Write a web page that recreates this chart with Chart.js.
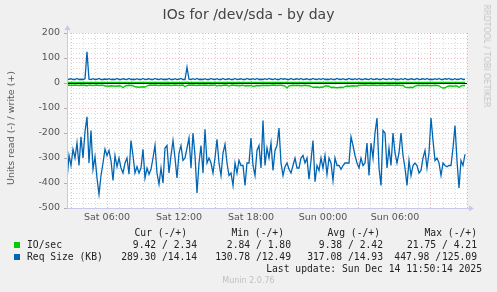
<!DOCTYPE html>
<html>
<head>
<meta charset="utf-8">
<title>IOs for /dev/sda - by day</title>
<script src="https://cdn.jsdelivr.net/npm/chart.js@4.4.1/dist/chart.umd.min.js"></script>
<style>
  body { margin: 0; background: #f0f0f0; }
  #wrap { position: relative; width: 497px; height: 292px; overflow: hidden; font-family: "DejaVu Sans", sans-serif; }
  #wrap canvas { position: absolute; left: 0; top: 0; }
  .txt { position: absolute; white-space: pre; line-height: 12px; }
  .mono { font-family: "DejaVu Sans Mono", monospace; font-size: 9.7px; color: #222; }
  .sq { position: absolute; width: 6px; height: 6px; left: 14px; }
</style>
</head>
<body>
<div id="wrap">
  <canvas id="chart" width="497" height="292"></canvas>

  <div class="txt" style="left:0;width:497px;top:7px;text-align:center;font-size:14px;line-height:14px;color:#444;">IOs for /dev/sda - by day</div>
  <div class="txt" style="left:11px;top:128px;font-size:9.5px;color:#555;transform:translate(-50%,-50%) rotate(-90deg);">Units read (-) / write (+)</div>
  <div class="txt" style="left:486px;top:56px;font-size:8px;color:#c4c4c4;transform:translate(-50%,-50%) rotate(90deg);">RRDTOOL / TOBI OETIKER</div>

  <!-- legend -->
  <div class="txt mono" style="right:310px;top:227px;">Cur (-/+)</div>
  <div class="txt mono" style="right:213px;top:227px;">Min (-/+)</div>
  <div class="txt mono" style="right:117px;top:227px;">Avg (-/+)</div>
  <div class="txt mono" style="right:20px;top:227px;">Max (-/+)</div>

  <div class="sq" style="top:242px;background:#00cc00;"></div>
  <div class="txt mono" style="left:27px;top:239px;">IO/sec</div>
  <div class="txt mono" style="right:300px;top:239px;">9.42 / 2.34</div>
  <div class="txt mono" style="right:206px;top:239px;">2.84 / 1.80</div>
  <div class="txt mono" style="right:114px;top:239px;">9.38 / 2.42</div>
  <div class="txt mono" style="right:20px;top:239px;">21.75 / 4.21</div>

  <div class="sq" style="top:254px;background:#0066b3;"></div>
  <div class="txt mono" style="left:27px;top:251px;">Req Size (KB)</div>
  <div class="txt mono" style="right:300px;top:251px;">289.30 /14.14</div>
  <div class="txt mono" style="right:206px;top:251px;">130.78 /12.49</div>
  <div class="txt mono" style="right:114px;top:251px;">317.08 /14.93</div>
  <div class="txt mono" style="right:56px;top:251px;">447.98 /</div>
  <div class="txt mono" style="right:20px;top:251px;">125.09</div>

  <div class="txt mono" style="right:15px;top:263px;">Last update: Sun Dec 14 11:50:14 2025</div>
  <div class="txt" style="left:0;width:497px;top:276px;text-align:center;font-size:8px;line-height:10px;color:#c0c0c0;">Munin 2.0.76</div>
</div>

<script>
// samples: one every 10 minutes, starting Sat 02:40 (hours since Sat 00:00)
const startHour = 2 + 40 / 60;
const stepHours = 10 / 60;

// x axis: one grid line per hour, labels every 6 hours
const hourTicks = [3,4,5,6,7,8,9,10,11,12,13,14,15,16,17,18,19,20,21,22,23,24,25,26,27,28,29,30,31,32,33,34,35,36];
const timeLabels = { 6: 'Sat 06:00', 12: 'Sat 12:00', 18: 'Sat 18:00', 24: 'Sun 00:00', 30: 'Sun 06:00' };

// IO/sec read (drawn negative)
const readIo = [
  9,8,10,9,8,9,10,8,9,9, 11,8,9,10,9,8,10,9,9,12,
  12,13,11,12,13,12,11,12,19,12, 10,9,10,11,15,16,17,16,15,16,
  12,9,8,9,8,9,10,8,9,8, 9,8,10,9,8,9,10,9,8,15,
  10,8,9,8,9,10,8,9,9,8, 9,10,8,9,8,12,9,11,9,8,
  9,12,9,8,10,9,11,10,9,12, 10,11,10,13,12,10,11,10,9,10,
  9,10,9,8,9,10,9,9,10,12, 20,11,10,9,10,9,10,11,10,9,
  10,11,13,17,17,16,18,17,16,12, 12,13,18,17,18,19,18,17,18,14,
  12,13,12,11,12,12,10,9,9,8, 9,10,9,8,9,10,9,8,9,10,
  9,8,9,9,10,8,9,10,9,17, 18,18,17,18,12,10,9,10,9,10,
  9,10,11,10,9,10,11,17,20,19, 14,12,12,13,12,12,18,11,10,10
];

// IO/sec write
const writeIo = [
  2.4,2.3,2.5,2.4,2.3,2.4,2.6,2.4,2.3,2.4,2.5,2.4,2.3,2.4,2.4,2.5,2.3,2.4,2.4,2.3,
  2.4,2.5,2.4,2.3,2.4,2.4,2.6,2.3,2.4,2.4,2.5,2.4,2.3,2.4,2.4,2.3,2.4,2.5,2.4,2.4,
  2.3,2.4,2.4,2.5,2.4,2.3,2.4,2.4,2.6,2.4,2.3,2.4,2.4,2.5,2.3,2.4,2.4,2.3,2.4,2.5,
  3.1,2.4,2.3,2.4,2.5,2.4,2.4,2.3,2.4,2.4,2.5,2.4,2.3,2.4,2.4,2.6,2.4,2.3,2.4,2.4,
  2.4,2.5,2.3,2.4,2.4,2.3,2.4,2.5,2.4,2.4,2.3,2.4,2.4,2.5,2.4,2.3,2.4,2.4,2.5,2.4,
  2.3,2.4,2.4,2.5,2.4,2.3,2.4,2.4,2.4,2.5,2.6,2.4,2.3,2.4,2.4,2.5,2.4,2.3,2.4,2.4,
  2.5,2.4,2.3,2.4,2.4,2.5,2.4,2.4,2.3,2.4,2.4,2.5,2.4,2.3,2.4,2.4,2.5,2.4,2.4,2.3,
  2.4,2.4,2.5,2.4,2.3,2.4,2.4,2.5,2.4,2.3,2.4,2.4,2.5,2.4,2.4,2.3,2.4,2.5,2.4,2.4,
  2.3,2.4,2.4,2.5,2.4,2.3,2.4,2.4,2.5,2.4,2.4,2.3,2.4,2.5,2.4,2.4,2.3,2.4,2.4,2.5,
  2.4,2.3,2.4,2.4,2.5,2.4,2.4,2.3,2.4,2.5,2.4,2.4,2.3,2.4,2.4,2.5,2.4,2.3,2.4,2.3
];

// Req Size (KB) read (drawn negative)
const readSize = [
  388,290,330,265,300,240,330,215,300,195, 135,320,190,345,295,380,445,370,320,265,
  290,270,310,390,290,335,300,340,360,320, 300,365,230,290,360,335,360,340,265,380,
  340,365,345,300,250,360,405,340,400,260, 250,360,290,230,300,380,280,250,310,300,
  260,220,340,200,290,440,320,250,360,185, 320,300,320,360,300,225,320,370,280,245,
  320,370,360,410,320,360,310,330,330,410, 320,320,220,330,370,270,250,340,150,330,
  260,300,240,350,270,250,180,320,370,335, 320,345,360,330,300,340,340,300,290,320,
  300,385,310,230,395,330,350,300,340,290, 365,300,320,390,300,330,330,345,330,320,
  320,320,215,250,290,320,340,300,330,320, 240,370,240,300,200,140,340,410,190,200,
  340,260,330,200,280,320,280,200,290,340, 410,310,370,330,320,330,360,350,300,270,
  340,280,140,230,310,300,320,370,320,330, 335,330,330,260,170,310,420,310,330,285
];

// Req Size (KB) write
const writeSize = [
  14,15,17,14,14,18,14,15,14,17,125,15,14,17,14,15,18,14,14,16,
  14,17,14,15,14,18,14,14,17,15,14,18,14,15,14,17,14,14,18,14,
  15,17,14,14,18,15,14,17,14,15,14,18,14,14,17,14,15,18,14,14,
  63,15,14,17,14,18,14,15,14,17,14,14,18,15,14,17,14,14,18,14,
  15,17,14,14,18,14,15,17,14,14,18,15,14,17,14,18,14,15,14,17,
  14,18,15,14,17,14,14,18,15,17,14,14,18,14,15,17,14,18,14,15,
  17,14,14,18,15,14,17,14,18,14,15,14,17,14,14,18,15,14,17,14,
  14,18,15,14,17,14,18,14,14,17,15,14,18,14,15,17,14,14,18,15,
  14,17,14,18,14,15,14,17,14,18,14,14,17,15,14,18,14,15,17,14,
  18,14,15,14,17,14,18,14,14,17,15,18,14,14,17,14,15,18,14,15
];

const green = '#00cc00';
const blue = '#0066b3';

function toPoints(values, sign) {
  return values.map((v, i) => ({ x: startHour + i * stepHours, y: sign * v }));
}

function lineSet(label, values, sign, color) {
  return {
    label: label,
    data: toPoints(values, sign),
    borderColor: color,
    backgroundColor: color,
    borderWidth: 1.3,
    pointRadius: 0,
    tension: 0
  };
}

// white plot canvas, zero rule, axes with arrows
const muninLook = {
  id: 'muninLook',
  beforeDraw(chart) {
    const a = chart.chartArea, ctx = chart.ctx;
    ctx.save();
    ctx.fillStyle = '#ffffff';
    ctx.fillRect(a.left, a.top, a.right - a.left, a.bottom - a.top);
    ctx.restore();
  },
  afterDatasetsDraw(chart) {
    const a = chart.chartArea, ctx = chart.ctx;
    const y0 = Math.round(chart.scales.y.getPixelForValue(0)) + 0.5;
    ctx.save();
    ctx.strokeStyle = '#000000';
    ctx.lineWidth = 1;
    ctx.beginPath();
    ctx.moveTo(a.left, y0);
    ctx.lineTo(a.right, y0);
    ctx.stroke();
    ctx.restore();
  },
  afterDraw(chart) {
    const a = chart.chartArea, ctx = chart.ctx;
    const x = a.left + 0.5, y = a.bottom + 0.5;
    ctx.save();
    ctx.strokeStyle = '#c8c8ec';
    ctx.fillStyle = '#c8c8ec';
    ctx.lineWidth = 1;
    ctx.beginPath();
    ctx.moveTo(x, y);
    ctx.lineTo(x, a.top - 4);
    ctx.moveTo(x, y);
    ctx.lineTo(a.right + 3, y);
    ctx.stroke();
    ctx.beginPath();
    ctx.moveTo(x, a.top - 8);
    ctx.lineTo(x - 3, a.top - 3);
    ctx.lineTo(x + 3, a.top - 3);
    ctx.closePath();
    ctx.fill();
    ctx.beginPath();
    ctx.moveTo(a.right + 7, y);
    ctx.lineTo(a.right + 2, y - 3);
    ctx.lineTo(a.right + 2, y + 3);
    ctx.closePath();
    ctx.fill();
    ctx.restore();
  }
};

const majorGrid = 'rgba(225,100,100,0.45)';
const minorGrid = 'rgba(160,160,160,0.38)';

new Chart(document.getElementById('chart'), {
  type: 'line',
  data: {
    datasets: [
      lineSet('IO/sec read', readIo, -1, green),
      lineSet('IO/sec write', writeIo, 1, green),
      lineSet('Req Size (KB) read', readSize, -1, blue),
      lineSet('Req Size (KB) write', writeSize, 1, blue)
    ]
  },
  options: {
    responsive: false,
    animation: false,
    devicePixelRatio: 1,
    layout: { padding: { top: 33, right: 30, left: 0, bottom: 0 } },
    plugins: {
      legend: { display: false },
      tooltip: { enabled: false }
    },
    scales: {
      x: {
        type: 'linear',
        min: startHour,
        max: 36,
        afterBuildTicks: axis => { axis.ticks = hourTicks.map(h => ({ value: h })); },
        afterFit: scale => { scale.height = 84; },
        border: { display: false, dash: [1, 2] },
        grid: {
          drawTicks: false,
          color: ctx => (ctx.tick && ctx.tick.value % 3 === 0) ? majorGrid : minorGrid
        },
        ticks: {
          autoSkip: false,
          minRotation: 0,
          maxRotation: 0,
          padding: 4,
          color: '#555',
          font: { family: 'DejaVu Sans', size: 9.5 },
          callback: v => timeLabels[v] || ''
        }
      },
      y: {
        min: -500,
        max: 200,
        afterFit: scale => { scale.width = 67; },
        border: { display: false, dash: [1, 2] },
        grid: {
          tickLength: 3,
          color: ctx => (ctx.tick && ctx.tick.value % 100 === 0) ? majorGrid : minorGrid,
          tickColor: ctx => (ctx.tick && ctx.tick.value % 100 === 0) ? '#b0b0b0' : 'rgba(0,0,0,0)'
        },
        ticks: {
          stepSize: 20,
          autoSkip: false,
          padding: 4,
          color: '#555',
          font: { family: 'DejaVu Sans', size: 9.5 },
          callback: v => (v % 100 === 0) ? v : ''
        }
      }
    }
  },
  plugins: [muninLook]
});
</script>
</body>
</html>
